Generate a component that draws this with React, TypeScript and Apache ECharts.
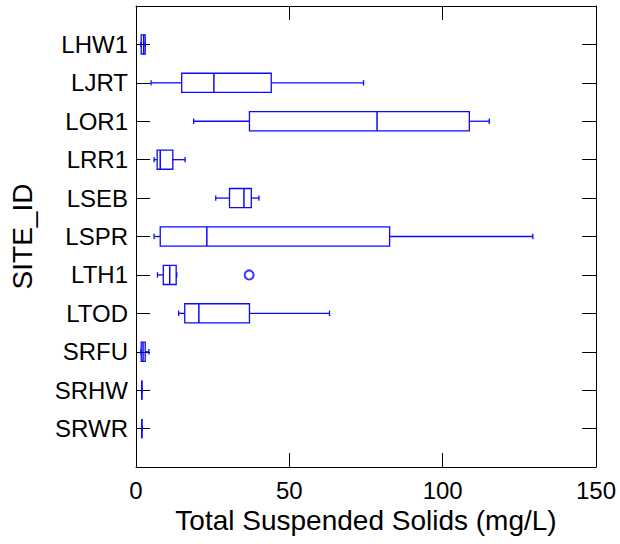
import React, { useEffect, useRef } from "react";
import * as echarts from "echarts";

const sites = ["LHW1", "LJRT", "LOR1", "LRR1", "LSEB", "LSPR", "LTH1", "LTOD", "SRFU", "SRHW", "SRWR"];
const minV = [1.6, 4.9, 18.8, 5.9, 26.0, 5.9, 7.0, 13.9, 1.6, 1.9, 1.9];
const q1V = [1.7, 14.9, 37.0, 6.9, 30.5, 7.9, 8.9, 15.9, 1.7, 1.9, 1.9];
const medV = [2.5, 25.4, 78.6, 7.9, 35.2, 23.1, 11.0, 20.5, 2.3, 1.9, 1.9];
const q3V = [3.0, 44.1, 108.7, 12.0, 37.6, 82.7, 13.1, 37.0, 3.0, 1.9, 1.9];
const maxV = [3.0, 74.2, 115.2, 16.0, 40.1, 129.4, 13.3, 63.1, 4.2, 1.9, 1.9];
const outlierSites = ["LTH1"];
const outlierValues = [36.9];
const xTicks = [0, 50, 100, 150];

const BLUE = "#0a0aff";
const FONT = "Liberation Sans";

export default function App() {
  const ref = useRef<HTMLDivElement>(null);
  useEffect(() => {
    if (!ref.current) return;
    const chart = echarts.init(ref.current, undefined, { renderer: "svg" });
    const boxData = sites.map((s, i) => [i + 1, minV[i], q1V[i], medV[i], q3V[i], maxV[i]]);
    const outData = outlierSites.map((s, i) => [outlierValues[i], sites.indexOf(s) + 1]);
    const axisCommon = {
      axisLine: { show: true, onZero: false, lineStyle: { color: "#000", width: 1 } },
      axisTick: { show: true, inside: true, length: 14, lineStyle: { color: "#000", width: 1 } },
      splitLine: { show: false },
    };
    const renderItem = (params: any, api: any) => {
      const y = api.value(0);
      const mn = api.coord([api.value(1), y]);
      const q1 = api.coord([api.value(2), y]);
      const md = api.coord([api.value(3), y]);
      const q3 = api.coord([api.value(4), y]);
      const mx = api.coord([api.value(5), y]);
      const band = api.size([0, 1])[1];
      const hh = band * 0.25;
      const ch = band * 0.07;
      const cy = mn[1];
      const st = { stroke: BLUE, lineWidth: 1.3, fill: "none" };
      return {
        type: "group",
        children: [
          { type: "line", shape: { x1: mn[0], y1: cy, x2: q1[0], y2: cy }, style: st },
          { type: "line", shape: { x1: q3[0], y1: cy, x2: mx[0], y2: cy }, style: st },
          { type: "line", shape: { x1: mn[0], y1: cy - ch, x2: mn[0], y2: cy + ch }, style: st },
          { type: "line", shape: { x1: mx[0], y1: cy - ch, x2: mx[0], y2: cy + ch }, style: st },
          { type: "rect", shape: { x: q1[0], y: cy - hh, width: Math.max(q3[0] - q1[0], 0), height: hh * 2 }, style: st },
          { type: "line", shape: { x1: md[0], y1: cy - hh, x2: md[0], y2: cy + hh }, style: { ...st, lineWidth: 1.5 } },
        ],
      };
    };
    chart.setOption({
      animation: false,
      backgroundColor: "#fff",
      grid: { left: 136, top: 6, right: 24, bottom: 77 },
      xAxis: [
        {
          type: "value",
          position: "bottom",
          min: 0,
          max: 150,
          interval: 50,
          ...axisCommon,
          axisLabel: { color: "#000", fontSize: 24, fontFamily: FONT, margin: 11, formatter: (v: number) => (xTicks.includes(v) ? String(v) : "") },
          name: "Total Suspended Solids (mg/L)",
          nameLocation: "middle",
          nameGap: 38,
          nameTextStyle: { color: "#000", fontSize: 28, fontFamily: FONT },
        },
        {
          type: "value",
          position: "top",
          min: 0,
          max: 150,
          interval: 50,
          ...axisCommon,
          axisLabel: { show: false },
        },
      ],
      yAxis: [
        {
          type: "value",
          position: "left",
          min: 0,
          max: 12,
          interval: 1,
          inverse: true,
          ...axisCommon,
          axisLabel: { color: "#000", fontSize: 24, fontFamily: FONT, margin: 8, formatter: (v: number) => sites[v - 1] ?? "" },
          name: "SITE_ID",
          nameLocation: "middle",
          nameGap: 100,
          nameTextStyle: { color: "#000", fontSize: 28, fontFamily: FONT },
        },
        {
          type: "value",
          position: "right",
          min: 0,
          max: 12,
          interval: 1,
          inverse: true,
          ...axisCommon,
          axisLabel: { show: false },
        },
      ],
      series: [
        {
          type: "custom",
          renderItem,
          data: boxData,
          encode: { x: [1, 2, 3, 4, 5], y: 0 },
          xAxisIndex: 0,
          yAxisIndex: 0,
          clip: false,
        },
        {
          type: "scatter",
          data: outData,
          symbol: "emptyCircle",
          symbolSize: 9,
          itemStyle: { color: BLUE, borderColor: BLUE, borderWidth: 1.3 },
          xAxisIndex: 0,
          yAxisIndex: 0,
        },
      ],
    });
    return () => chart.dispose();
  }, []);
  return <div ref={ref} style={{ position: "fixed", left: 0, top: 0, width: 620, height: 544 }} />;
}
